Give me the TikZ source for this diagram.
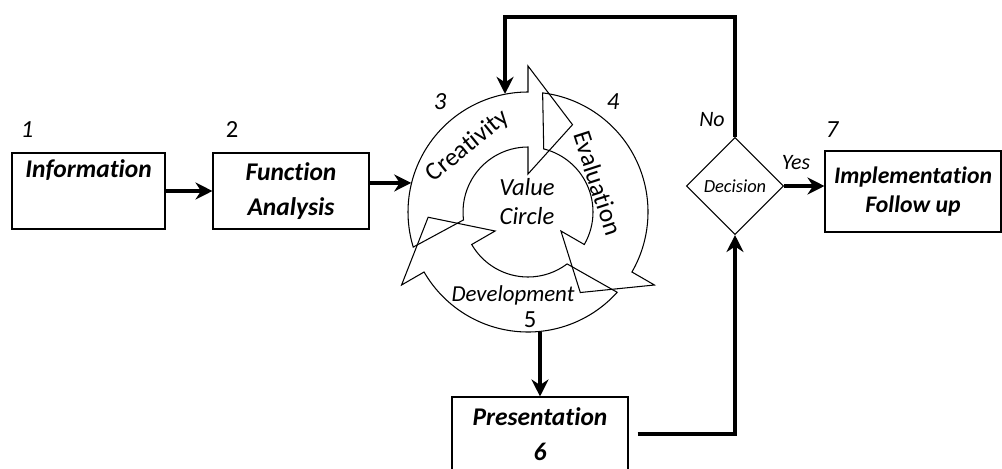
\documentclass[tikz,border=0pt]{standalone}
\usepackage{fontspec}
\setmainfont{Carlito}[Ligatures=NoCommon]
\usetikzlibrary{shapes.geometric, arrows.meta}

\begin{document}
\begin{tikzpicture}[x=0.2mm, y=-0.2mm,
    box/.style={draw, line width=0.6pt, minimum width=30.6mm, minimum height=15.2mm,
        inner sep=0pt, align=center, font=\fontsize{14.5}{20}\selectfont\bfseries\itshape},
    num/.style={font=\fontsize{14}{16}\selectfont\itshape},
    ringtext/.style={font=\fontsize{14.5}{16}\selectfont},
    flow/.style={line width=2.2pt, -{Stealth[length=3.4mm, width=3.4mm]}},
    ringarrow/.style={line width=0.6pt, line join=miter}]

    \useasboundingbox (0,0) rectangle (1002,468);
    \clip (0,0) rectangle (1002,468);

    % Steps 1 and 2
    \node[box] (info) at (88.5,191) {Information\\\strut};
    \node[num] (n1) at (27,130) {1};
    \node[box, minimum width=31.2mm] (fa) at (291,191) {Function\\Analysis};
    \node[num, font=\fontsize{14}{16}\selectfont] (n2) at (232,130) {2};

    % Value circle (3, 4, 5)
    \node[circle, minimum size=48mm, inner sep=0pt] (ring) at (528,212) {};
    \begin{scope}[shift={(528,212)}, y=0.2mm]
        % Creativity
        \draw[ringarrow] (187:65) -- (197:120) arc[start angle=197, end angle=90, radius=120]
            -- (90:146) -- (63:98) -- (90:38) -- (90:65)
            arc[start angle=90, end angle=187, radius=65] -- cycle;
        % Evaluation
        \draw[ringarrow] (76:65) -- (83:120) arc[start angle=83, end angle=-30, radius=120]
            -- (-30:146) -- (-57:96) -- (-30:38) -- (-30:65)
            arc[start angle=-30, end angle=76, radius=65] -- cycle;
        % Development
        \draw[ringarrow] (-53:65) -- (-42:120) arc[start angle=-42, end angle=-150, radius=120]
            -- (-150:146) -- (-177:100) -- (-150:38) -- (-150:65)
            arc[start angle=-150, end angle=-53, radius=65] -- cycle;
    \end{scope}
    \node[ringtext, rotate=39] (crea) at (468,146) {Creativity};
    \node[ringtext, rotate=-72] (eval) at (598,183) {Evaluation};
    \node[align=center, font=\fontsize{14}{16.5}\selectfont\itshape] (vc) at (527,202) {Value\\Circle};
    \node[font=\fontsize{13}{14}\selectfont\itshape] (dev) at (513,295) {Development};
    \node[num] (n3) at (440,102) {3};
    \node[num] (n4) at (613,102) {4};
    \node[num, font=\fontsize{14}{16}\selectfont] (n5) at (530,320) {5};

    % Step 6
    \node[box, minimum width=35.2mm, minimum height=14.8mm] (pres) at (540,434) {Presentation\\6};

    % Decision and step 7
    \node[draw, diamond, aspect=1, minimum size=19.4mm, inner sep=0pt, line width=0.6pt,
        font=\fontsize{10.5}{12}\selectfont\itshape] (dec) at (735,186) {Decision};
    \node[box, minimum width=35.2mm, minimum height=16.2mm,
        font=\fontsize{13.5}{16.5}\selectfont\bfseries\itshape] (impl) at (913,191.5) {Implementation\\Follow up};
    \node[num] (n7) at (832,130) {7};
    \node[num, font=\fontsize{12.5}{14}\selectfont\itshape] (no) at (712,120) {No};
    \node[num, font=\fontsize{12.5}{14}\selectfont\itshape] (yes) at (796,163) {Yes};

    % Connectors
    \draw[flow] (info.east) -- (fa.west);
    \draw[flow] ([yshift=1.6mm]fa.east) -- (ring.166);
    \draw[flow] (pres.north |- ring.south) -- (pres.north);
    \draw[flow] ([xshift=1.8mm]pres.east) -| (dec.south);
    \draw[flow] (dec.north) -- ++(0,-120) -| (ring.101);
    \draw[flow] (dec.east) -- (dec.east -| impl.west);
\end{tikzpicture}
\end{document}
